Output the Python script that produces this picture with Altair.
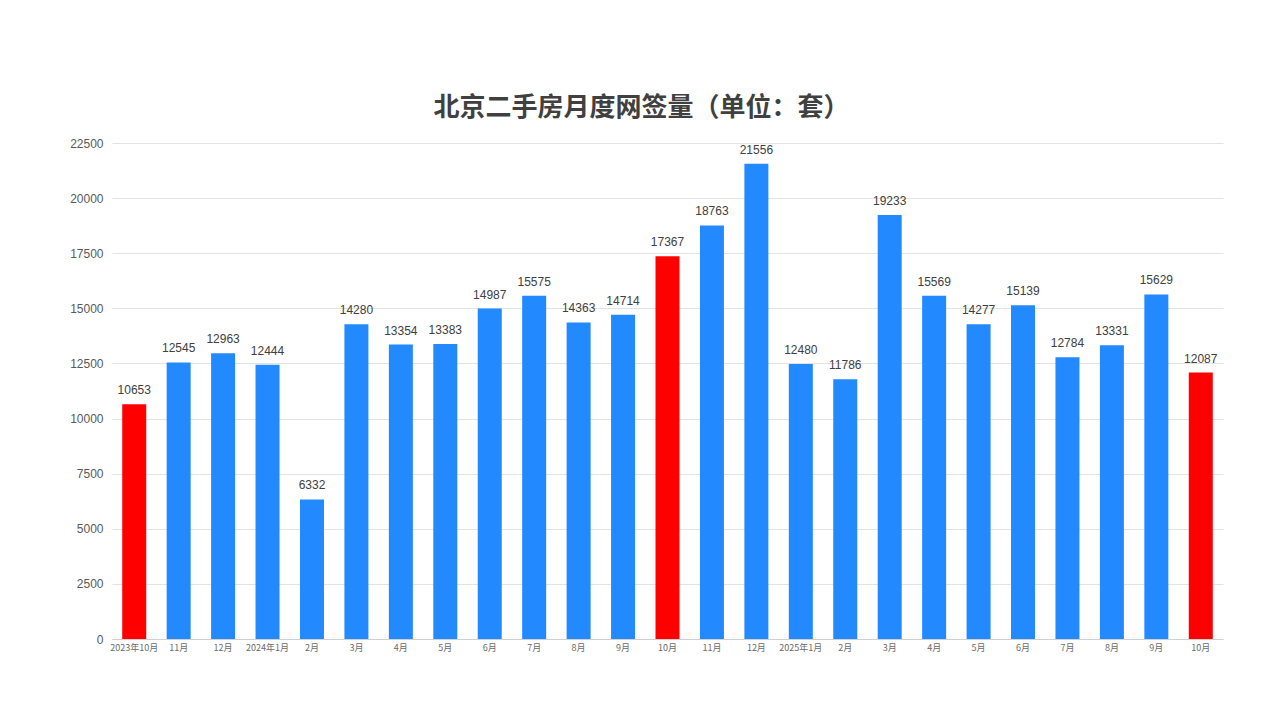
import altair as alt
import pandas as pd
import json

labels = ["2023年10月", "11月", "12月", "2024年1月", "2月", "3月", "4月", "5月", "6月",
          "7月", "8月", "9月", "10月", "11月", "12月", "2025年1月", "2月", "3月", "4月",
          "5月", "6月", "7月", "8月", "9月", "10月"]
values = [10653, 12545, 12963, 12444, 6332, 14280, 13354, 13383, 14987, 15575, 14363,
          14714, 17367, 18763, 21556, 12480, 11786, 19233, 15569, 14277, 15139, 12784,
          13331, 15629, 12087]
highlight = [0, 12, 24]

df = pd.DataFrame({
    "idx": list(range(len(labels))),
    "label": labels,
    "value": values,
    "hl": ["red" if i in highlight else "blue" for i in range(len(labels))],
})

label_expr = json.dumps(labels, ensure_ascii=False) + "[datum.value]"

x = alt.X("idx:O", title=None,
          scale=alt.Scale(paddingInner=0.46, paddingOuter=0.23),
          axis=alt.Axis(labelExpr=label_expr, labelAngle=0, labelFontSize=9,
                        labelColor="#6b6b6b", labelFont="Noto Sans CJK SC",
                        ticks=False, domainColor="#d0d0d0", labelPadding=4))
y = alt.Y("value:Q", title=None,
          scale=alt.Scale(domain=[0, 22500], nice=False),
          axis=alt.Axis(values=list(range(0, 22501, 2500)), format="d", ticks=False, domain=False,
                        labelFontSize=12, labelColor="#595959", labelFont="Liberation Sans",
                        labelPadding=9, gridColor="#e3e3e3"))

base = alt.Chart(df)
bars = base.mark_bar().encode(
    x=x, y=y,
    color=alt.Color("hl:N", scale=alt.Scale(domain=["blue", "red"], range=["#2389ff", "#ff0000"]),
                    legend=None),
)
text = base.mark_text(dy=-14, fontSize=12, color="#404040", font="Liberation Sans").encode(
    x=x, y=y, text=alt.Text("value:Q", format="d"))

chart = (bars + text).properties(
    width=1111, height=496,
    autosize=alt.AutoSizeParams(type="none"),
    padding={"left": 104, "top": 135, "right": 54, "bottom": 76},
    title=alt.TitleParams("北京二手房月度网签量（单位：套）", font="Noto Sans CJK SC",
                          fontSize=26, fontWeight="bold", color="#404040",
                          anchor="middle", dx=-26, offset=16),
).configure_view(stroke=None)

chart.save("out.html", embed_options={"renderer": "svg", "actions": False})
